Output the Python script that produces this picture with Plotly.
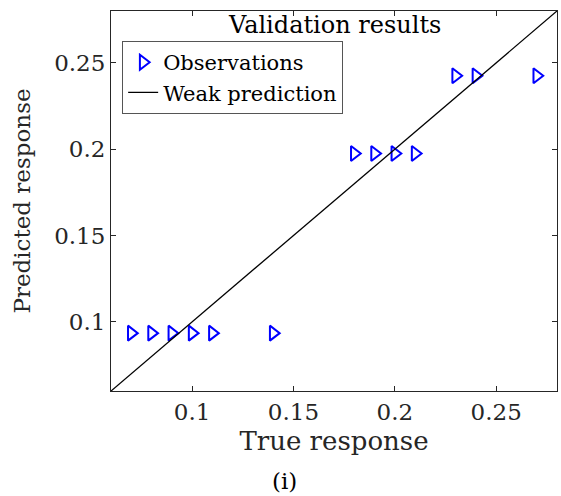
import plotly.graph_objects as go

true_resp = [0.07, 0.08, 0.09, 0.10, 0.11, 0.14, 0.18, 0.19, 0.20, 0.21, 0.23, 0.24, 0.27]
pred_resp = [0.0935, 0.0935, 0.0935, 0.0935, 0.0935, 0.0935, 0.1975, 0.1975, 0.1975, 0.1975, 0.2425, 0.2425, 0.2425]
line_x = [0.06, 0.28]
line_y = [0.06, 0.28]
tick_vals = [0.1, 0.15, 0.2, 0.25]
tick_text = ["0.1", "0.15", "0.2", "0.25"]

font_family = "DejaVu Serif"

fig = go.Figure()
fig.add_trace(go.Scatter(x=true_resp, y=pred_resp, mode="markers", name="Observations",
                         marker=dict(symbol="triangle-right-open", size=13, color="blue",
                                     line=dict(width=2, color="blue"))))
fig.add_trace(go.Scatter(x=line_x, y=line_y, mode="lines", name="Weak prediction",
                         line=dict(color="black", width=1.3)))

axis_common = dict(range=[0.06, 0.28], tickvals=tick_vals, ticktext=tick_text,
                   showline=True, linecolor="#262626", linewidth=1, mirror="allticks",
                   ticks="inside", ticklen=5, tickcolor="#262626", showgrid=False, zeroline=False,
                   automargin=False,
                   tickfont=dict(family=font_family, size=23, color="#262626"))

fig.update_layout(
    width=561, height=496,
    margin=dict(l=111, r=4, t=11, b=105),
    plot_bgcolor="white", paper_bgcolor="white",
    font=dict(family=font_family, color="#262626"),
    xaxis=dict(**axis_common, title=dict(text="True response", font=dict(size=26), standoff=8)),
    yaxis=dict(**axis_common, title=dict(text="Predicted response", font=dict(size=23), standoff=17)),
    legend=dict(x=0.025, y=0.921, xanchor="left", yanchor="top", bgcolor="white",
                bordercolor="#555555", borderwidth=1, font=dict(size=21, color="black"),
                tracegroupgap=0, itemwidth=30),
    showlegend=True,
    annotations=[
        dict(text="Validation results", x=0.5, y=1.0, xref="paper", yref="paper",
             xanchor="center", yanchor="top", showarrow=False, yshift=2,
             font=dict(size=24, color="black", family=font_family)),
        dict(text="(i)", x=0.388, y=-0.237, xref="paper", yref="paper",
             xanchor="center", yanchor="middle", showarrow=False,
             font=dict(size=23, color="black", family=font_family)),
    ],
)

fig.write_html("out.html", config={"displayModeBar": False},
               post_script="document.body.style.margin='0';document.body.style.overflow='hidden';")
